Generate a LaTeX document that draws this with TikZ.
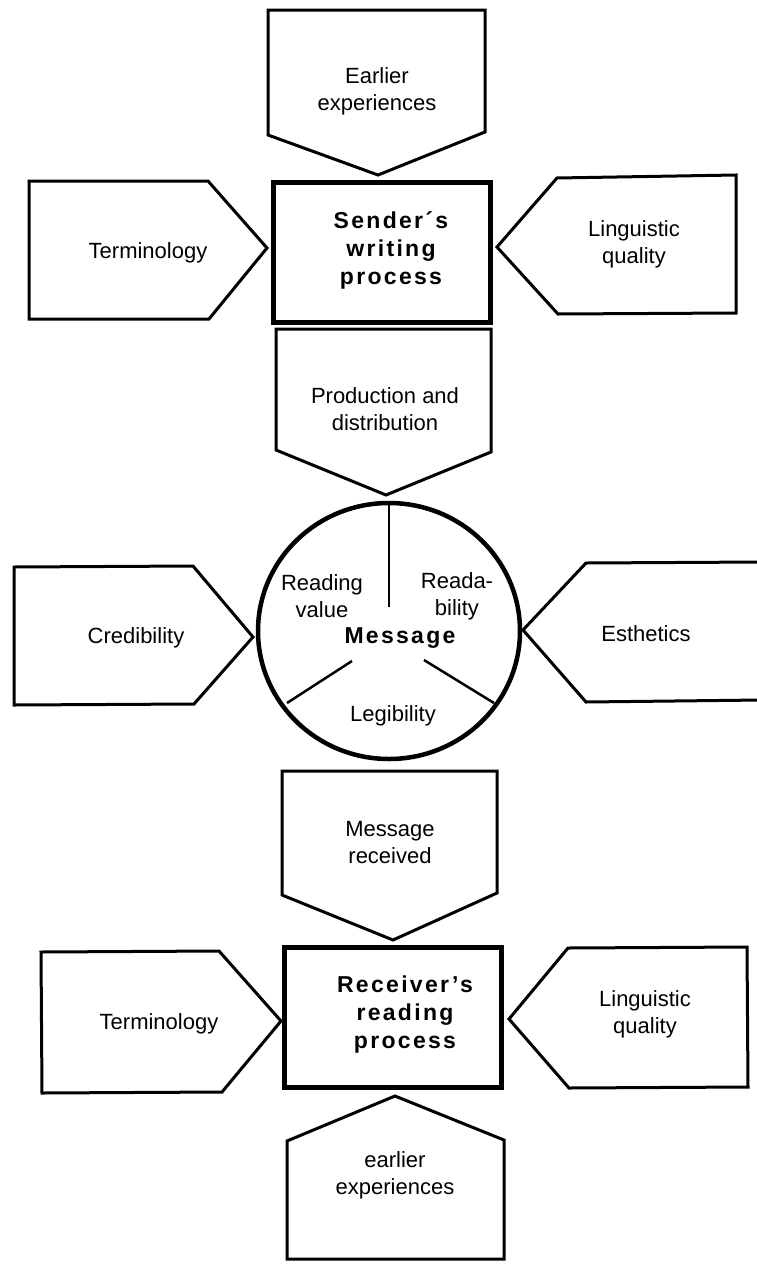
\documentclass[tikz,border=0pt]{standalone}
\usepackage{fontspec}
\setmainfont{Liberation Sans}
\newfontfamily\spacedfont[LetterSpace=10]{Liberation Sans}
\begin{document}
\begin{tikzpicture}[x=1pt,y=-1pt,
  shp/.style={draw, line width=3pt, line join=miter},
  thickbox/.style={draw, line width=5pt},
  ring/.style={draw, line width=4.5pt},
  divider/.style={draw, line width=2.5pt},
  lbl/.style={font=\fontsize{22}{27}\selectfont, align=center, inner sep=0pt},
  blbl/.style={font=\spacedfont\bfseries\fontsize{23}{28}\selectfont, align=center, inner sep=0pt}]
\useasboundingbox (0,0) rectangle (756,1264);
% top input
\draw[shp] (268,10) -- (485,10) -- (485,132) -- (378,175) -- (268,135) -- cycle;
% sender box
\draw[thickbox] (273,182) rectangle (490,322);
% terminology 1
\draw[shp] (29,181) -- (208,181) -- (267,248) -- (209,319) -- (29,319) -- cycle;
% linguistic 1
\draw[shp] (736,175) -- (557,178) -- (497,247) -- (558,314) -- (736,313) -- cycle;
% production
\draw[shp] (276,329) -- (491,329) -- (491,452) -- (386,495) -- (276,450) -- cycle;
% message circle
\draw[ring] (389,631) ellipse [x radius=131, y radius=128];
\draw[divider] (389,503) -- (389,607);
\draw[divider] (287,703) -- (352,661);
\draw[divider] (424,660) -- (494,703);
% credibility
\draw[shp] (14,567) -- (193,566) -- (253,637) -- (194,704) -- (14,705) -- cycle;
% esthetics
\draw[shp] (762,562) -- (586,563) -- (523,630) -- (586,702) -- (762,700);
% message received
\draw[shp] (282,771) -- (497,771) -- (497,893) -- (393,940) -- (282,895) -- cycle;
% receiver box
\draw[thickbox] (284,947) rectangle (501,1087);
% terminology 2
\draw[shp] (41,952) -- (219,951) -- (281,1021) -- (222,1092) -- (42,1093) -- cycle;
% linguistic 2
\draw[shp] (747,947) -- (568,948) -- (509,1019) -- (569,1088) -- (748,1087) -- cycle;
% earlier experiences 2
\draw[shp] (395,1096) -- (504,1140) -- (504,1259) -- (287,1259) -- (287,1141) -- cycle;

% texts
\node[lbl] (earlier1) at (377,91) {Earlier\\experiences};
\node[blbl] (sender) at (391,250) {Sender´s\\writing\\process};
\node[lbl] (term1) at (148,253) {Terminology};
\node[lbl] (ling1) at (634,244) {Linguistic\\quality};
\node[lbl] (prod) at (385,409) {Production and\\distribution};
\node[lbl] (rvalue) at (322,596) {Reading\\value};
\node[lbl] (readab) at (457,596) {Reada-\\bility};
\node[blbl] (msg) at (400,638) {Message};
\node[lbl] (legib) at (393,716) {Legibility};
\node[lbl] (cred) at (136,638) {Credibility};
\node[lbl] (esth) at (646,634) {Esthetics};
\node[lbl] (mrec) at (390,843) {Message\\received};
\node[blbl] (receiver) at (405,1015) {Receiver’s\\reading\\process};
\node[lbl] (term2) at (159,1024) {Terminology};
\node[lbl] (ling2) at (645,1014) {Linguistic\\quality};
\node[lbl] (earlier2) at (395,1175) {earlier\\experiences};
\end{tikzpicture}
\end{document}
